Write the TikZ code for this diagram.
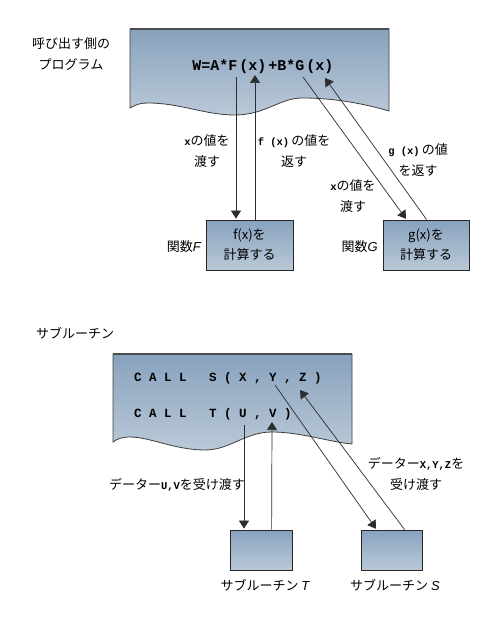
\documentclass[tikz,border=0pt]{standalone}
\usepackage{fontspec}
\setmainfont{Noto Sans CJK JP}
\newfontfamily\lsans{Liberation Sans}
\newfontfamily\monof{Liberation Mono}
\usetikzlibrary{arrows.meta,calc}
\definecolor{docTop}{RGB}{136,162,189}
\definecolor{docBot}{RGB}{186,201,216}
\definecolor{lineC}{RGB}{45,45,45}
\newcommand{\mx}[1]{{\monof\bfseries\fontsize{10.5}{10}\selectfont #1}}
\newcommand{\itl}[1]{{\lsans\itshape #1}}
\begin{document}
\begin{tikzpicture}[x=1pt,y=-1pt,
  lbl/.style={font=\fontsize{13}{21.5}\selectfont, align=center, inner sep=0pt, text=black},
  doc/.style={draw=black!75, line width=0.8pt, top color=docTop, bottom color=docBot},
  boxF/.style={draw=black!85, line width=0.8pt, top color=docTop, bottom color=docBot, inner sep=0pt, align=center, font=\fontsize{13}{20}\selectfont},
  arr/.style={draw=lineC, line width=0.7pt, -{Triangle[width=10pt,length=8pt]}},
  ln/.style={draw=lineC, line width=0.7pt}]
\useasboundingbox (0,0) rectangle (500,620);
\fill[white] (0,0) rectangle (500,620);

% ---------- top section ----------
\node[lbl] (title1) at (71,54) {呼び出す側の\\プログラム};
\path[doc] (130,29) -- (389,29) -- (389,111)
  .. controls (365,104) and (335,98) .. (302,98)
  .. controls (280,98) and (265,115) .. (235,115)
  .. controls (205,115) and (180,103) .. (148,103)
  .. controls (141,103) and (137,104) .. (130,108) -- cycle;
\draw[black!70, line width=1.6pt] (130,29) -- (389,29);
\node (formula) at (263,67) {\monof\bfseries\fontsize{15}{15}\selectfont W=A*F\kern2pt(x)\kern2pt+B*G\kern2pt(x)};

\node[boxF, minimum width=87pt, minimum height=50pt] (fF) at (249.5,245) {f(x)を\\計算する};
\node[boxF, minimum width=86pt, minimum height=50pt] (fG) at (426,245) {g(x)を\\計算する};
\node[lbl, anchor=east] (nF) at (201,247) {関数\itl{F}};
\node[lbl, anchor=east] (nG) at (378,247) {関数\itl{G}};

\coordinate (fa) at (236,77);
\coordinate (fb) at (255,75);
\coordinate (ga) at (303,77);
\coordinate (gb) at (325,78);
\draw[arr, shorten >=1pt] (fa) -- (fa |- fF.north);
\draw[arr] ([xshift=5.5pt]fF.north) -- (fb);
\draw[arr, shorten >=1pt] (ga) -- ([xshift=24pt]fG.north west);
\draw[arr] ([xshift=44pt]fG.north west) -- (gb);

\node[lbl] (l1) at (207,151) {\mx{x}の値を\\渡す};
\node[lbl] (l2) at (294,151) {\mx{f (x)}\kern2pt の値を\\返す};
\node[lbl] (l3) at (418,160) {\mx{g (x)}\kern2pt の値\\を返す};
\node[lbl] (l4) at (353,196) {\mx{x}の値を\\渡す};

% ---------- bottom section ----------
\node[lbl] (title2) at (75,333) {サブルーチン};
\path[doc] (113,354) -- (352,354) -- (352,444)
  .. controls (330,442) and (300,432) .. (272,432)
  .. controls (245,432) and (230,450) .. (205,450)
  .. controls (175,450) and (150,437) .. (130,437)
  .. controls (122,437) and (117,439) .. (113,442) -- cycle;
\draw[black!70, line width=1.6pt] (113,354) -- (352,354);
\node[anchor=west, inner sep=0pt] (call1) at (134,378) {\monof\bfseries\fontsize{12.5}{12}\selectfont C~A~L~L~~~S~(~X~,~Y~,~Z~)};
\node[anchor=west, inner sep=0pt] (call2) at (134,414) {\monof\bfseries\fontsize{12.5}{12}\selectfont C~A~L~L~~~T~(~U~,~V~)};

\node[boxF, minimum width=62pt, minimum height=40pt] (sT) at (261,550) {};
\node[boxF, minimum width=61pt, minimum height=40pt] (sS) at (391.5,550) {};
\node[lbl] (nT) at (265,585) {サブルーチン \itl{T}};
\node[lbl] (nS) at (395,585) {サブルーチン \itl{S}};

\coordinate (ta) at (244,425);
\coordinate (tb) at (272,422);
\coordinate (sa) at (275,385);
\coordinate (sb) at (300,390);
\draw[arr, shorten >=1pt] (ta) -- (ta |- sT.north);
\draw[arr] ([xshift=42pt]sT.north west) -- (tb);
\draw[arr, shorten >=1pt] (sa) -- ([xshift=16pt]sS.north west);
\draw[arr] ([xshift=44pt]sS.north west) -- (sb);

\node[lbl] (l5) at (177,485) {データー\mx{U,V}を受け渡す};
\node[lbl] (l6) at (416,474) {データー\mx{X,Y,Z}を\\受け渡す};
\end{tikzpicture}
\end{document}
